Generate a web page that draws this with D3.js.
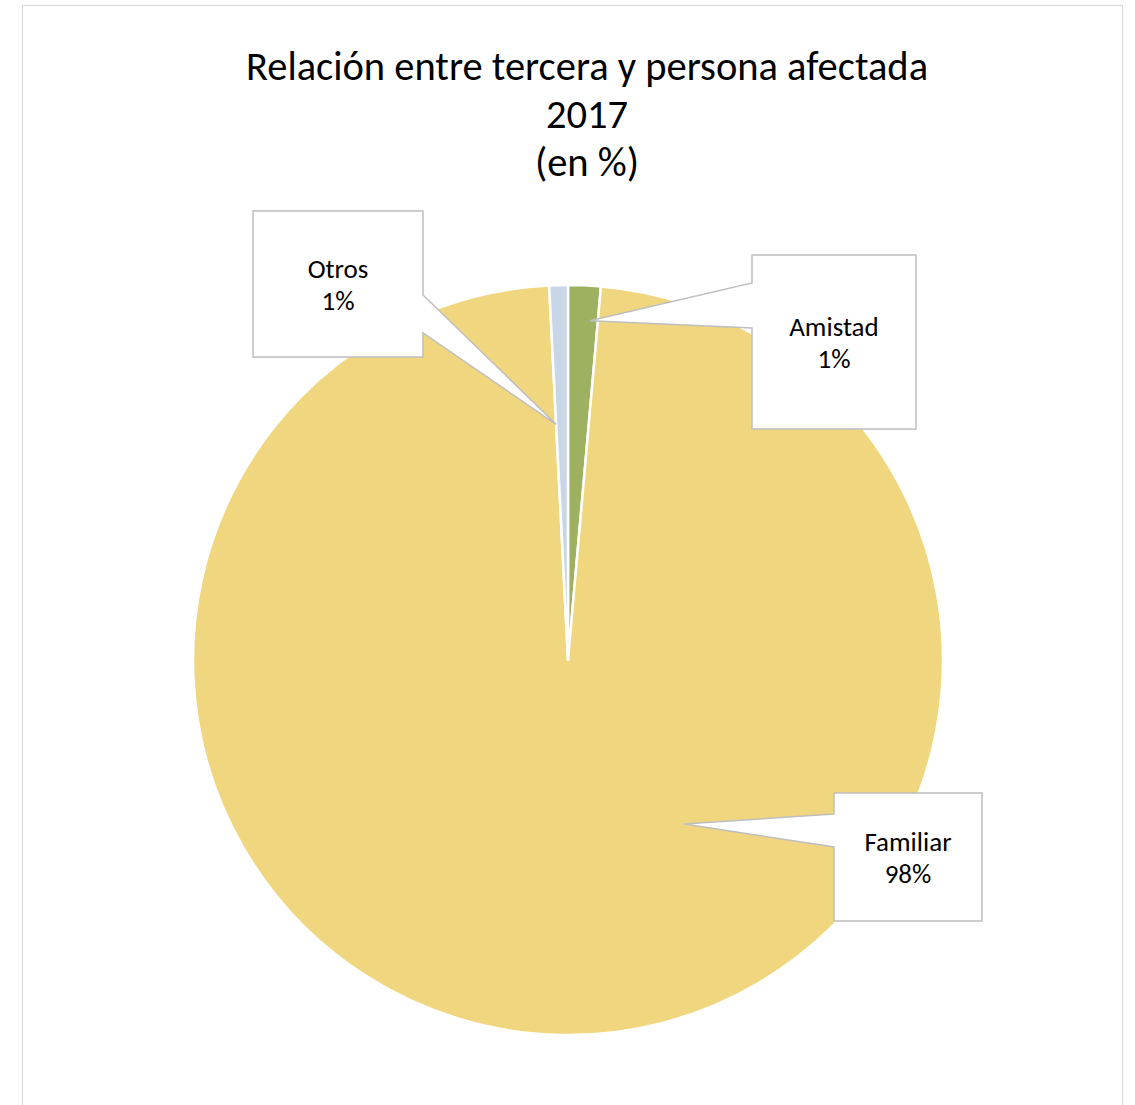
<!DOCTYPE html>
<html>
<head>
<meta charset="utf-8">
<script src="https://cdn.jsdelivr.net/npm/d3@7/dist/d3.min.js"></script>
<style>
  html, body { margin: 0; padding: 0; background: #fff; }
  svg { display: block; }
  text { font-family: Carlito, Calibri, Lato, "Open Sans", sans-serif; fill: #000; }
</style>
</head>
<body>
<svg id="chart" width="1135" height="1105"></svg>
<script>
// ---- data ----
const categories = ["Amistad", "Familiar", "Otros"];
const values = [1.4, 97.8, 0.8];
const valueLabels = ["1%", "98%", "1%"];
const colors = ["#9EB160", "#F0D67E", "#C9D6E7"];
const titleLines = ["Relación entre tercera y persona afectada", "2017", "(en %)"];

// ---- layout ----
const W = 1135, H = 1105;
const cx = 568, cy = 660, R = 375;
// callout boxes: [left, top, right, bottom], notch side, notch y-range, tip polar (deg, radius)
const callouts = {
  "Amistad":  { box: [752, 255, 916, 429], side: "left",  ny: [283, 328], tipA: 3.7,    tipR: 340 },
  "Familiar": { box: [834, 793, 982, 921], side: "left",  ny: [814, 847], tipA: 144.7,  tipR: 201 },
  "Otros":    { box: [253, 211, 423, 357], side: "right", ny: [295, 333], tipA: -2.9,   tipR: 236 }
};

const svg = d3.select("#chart");

// chart area border
svg.append("rect")
  .attr("x", 22.5).attr("y", 5.5)
  .attr("width", 1100).attr("height", 1120)
  .attr("fill", "#fff").attr("stroke", "#D9D9D9").attr("stroke-width", 1.2);

// title
const title = svg.append("text")
  .attr("text-anchor", "middle")
  .style("font-size", "40.5px");
titleLines.forEach((t, i) => {
  title.append("tspan").attr("x", 587).attr("y", 80 + i * 48).text(t);
});

// pie
const data = categories.map((c, i) => ({ cat: c, value: values[i], label: valueLabels[i], color: colors[i] }));
const pie = d3.pie().sort(null).value(d => d.value);
const arc = d3.arc().innerRadius(0).outerRadius(R);
const g = svg.append("g").attr("transform", `translate(${cx},${cy})`);
g.selectAll("path").data(pie(data)).join("path")
  .attr("d", arc)
  .attr("fill", d => d.data.color)
  .attr("stroke", "#fff")
  .attr("stroke-width", 2.5)
  .attr("stroke-linejoin", "round");

// callouts
data.forEach(d => {
  const c = callouts[d.cat];
  const [l, t, r, b] = c.box;
  const a = c.tipA * Math.PI / 180;
  const tx = cx + c.tipR * Math.sin(a), ty = cy - c.tipR * Math.cos(a);
  let p;
  if (c.side === "left") {
    p = `M${l},${t}H${r}V${b}H${l}V${c.ny[1]}L${tx},${ty}L${l},${c.ny[0]}Z`;
  } else {
    p = `M${l},${t}H${r}V${c.ny[0]}L${tx},${ty}L${r},${c.ny[1]}V${b}H${l}Z`;
  }
  svg.append("path").attr("d", p)
    .attr("fill", "#fff").attr("stroke", "#BFBFBF").attr("stroke-width", 1.5)
    .attr("stroke-linejoin", "miter");
  const mx = (l + r) / 2, my = (t + b) / 2;
  const txt = svg.append("text").attr("text-anchor", "middle").style("font-size", "27px");
  txt.append("tspan").attr("x", mx).attr("y", my - 6).text(d.cat);
  txt.append("tspan").attr("x", mx).attr("y", my + 26).text(d.label);
});
</script>
</body>
</html>
